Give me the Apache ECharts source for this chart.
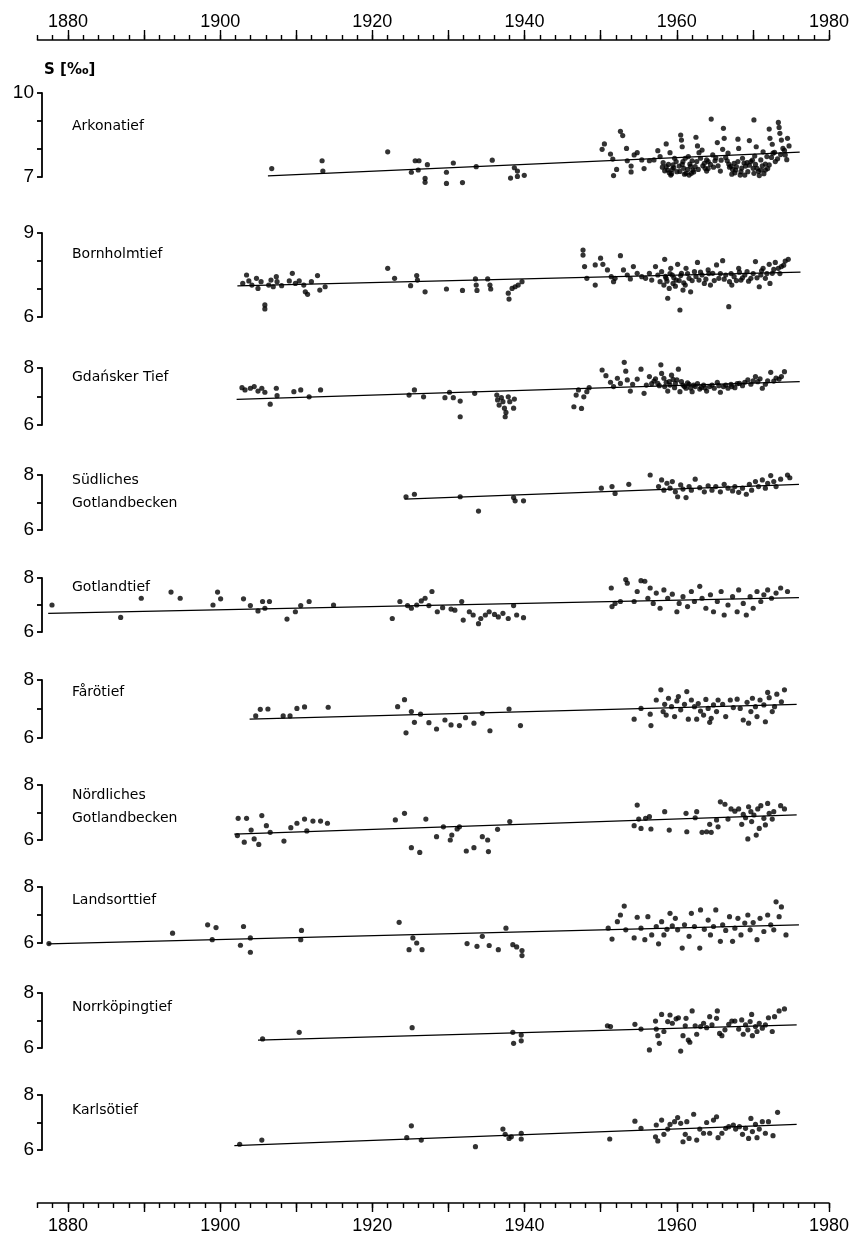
<!DOCTYPE html>
<html>
<head>
<meta charset="utf-8">
<script src="https://cdn.jsdelivr.net/npm/echarts@6/dist/echarts.min.js"></script>
<style>
  html, body { margin: 0; padding: 0; background: #fff; }
  #chart { width: 852px; height: 1240px; }
</style>
</head>
<body>
<div id="chart"></div>
<script>
// Salinity S [‰] at ten Baltic deep stations, 1876–1980, with linear trends.

const stations = ['Arkonatief', 'Bornholmtief', 'Gdańsker Tief', 'Südliches\nGotlandbecken', 'Gotlandtief',
  'Fårötief', 'Nördliches\nGotlandbecken', 'Landsorttief', 'Norrköpingtief', 'Karlsötief'];

// y-axis extent per station [min, max]
const yRanges = [[7, 10], [6, 9], [6, 8], [6, 8], [6, 8], [6, 8], [6, 8], [6, 8], [6, 8], [6, 8]];

const yearMin = 1876, yearMax = 1980;
const yearLabels = [1880, 1900, 1920, 1940, 1960, 1980];
const decadeTicks = [1880, 1890, 1900, 1910, 1920, 1930, 1940, 1950, 1960, 1970, 1980];

// observations [year, S]
const arkona = [[1906.7,7.30],[1913.3,7.58],[1913.4,7.21],[1921.9,7.90],[1925,7.17],[1925.5,7.58],[1926,7.58],[1925.9,7.25],[1926.8,6.95],[1926.8,6.81],[1927.1,7.44],[1929.6,7.17],[1929.6,6.77],[1930.5,7.50],[1931.7,6.80],[1933.5,7.37],[1935.6,7.60],[1938,6.96],[1938.5,7.33],[1938.9,7.21],[1938.9,7.02],[1939.8,7.06],
  [1950.3,8.18],[1950,7.99],[1951.1,7.82],[1951.4,7.64],[1951.5,7.05],[1951.9,7.27],[1952.4,8.63],[1952.7,8.48],[1953.2,8.02],[1953.3,7.58],[1953.8,7.39],[1953.8,7.18],[1954.2,7.79],[1954.6,7.87],[1955.2,7.61],[1955.5,7.30],[1956.2,7.58],[1956.8,7.61],[1957.3,7.94],[1957.6,7.73],[1958,7.51],[1958.4,8.18],[1958.6,7.25],[1958.9,7.87],[1959,7.07],[1959.3,7.43],[1959.5,7.67],[1959.8,7.19],
  [1960.3,8.50],[1960.4,8.32],[1960.5,8.08],[1960.6,7.55],[1960.7,7.31],[1961,7.13],[1961.3,7.73],[1961.5,7.46],[1961.7,7.13],[1961.9,7.25],[1962.3,8.42],[1962.5,8.11],[1962.7,7.87],[1962.9,7.67],[1963.1,7.96],[1963.5,7.31],[1963.7,7.21],[1963.9,7.55],[1964.3,9.07],[1964.5,7.79],[1964.8,7.58],[1965.1,8.23],[1965.5,7.21],[1965.8,7.99],[1965.9,8.74],[1966,8.38],[1966.2,7.70],[1966.5,7.85],[1966.7,7.35],[1967,7.10],[1967.3,7.49],[1967.5,7.25],[1967.8,8.35],[1967.9,8.02],[1968.1,7.07],[1968.4,7.67],[1968.8,7.39],[1969.1,7.19],[1969.3,8.30],[1969.5,7.55],[1969.9,9.04],[1970,7.75],[1970.2,8.08],[1970.3,7.31],[1970.6,7.05],[1970.8,7.61],[1971.1,7.90],[1971.4,7.25],[1971.6,7.73],[1971.9,8.71],[1972,8.38],[1972.3,8.17],[1972.4,7.85],[1972.7,7.55],[1973.1,8.95],[1973.2,8.77],[1973.3,8.56],[1973.5,8.32],[1973.7,8.02],[1974,7.79],[1974.3,8.38],[1974.5,8.11],
  [1958.4,7.37],[1958.8,7.15],[1959.2,7.27],[1959.7,7.55],[1960.1,7.39],[1960.9,7.67],[1961.2,7.27],[1961.4,7.07],[1961.8,7.58],[1962.2,7.37],[1963.4,7.49],[1963.7,7.61],[1966.6,7.46],[1967.1,7.27],[1967.6,7.37],[1968.2,7.19],[1968.7,7.07],[1969,7.51],[1969.8,7.31],[1969.9,7.13],[1970.8,7.25],[1971.4,7.46],[1971.9,7.43],
  [1957.9,7.35],[1958.2,7.22],[1958.7,7.45],[1959.1,7.12],[1959.4,7.33],[1960.2,7.20],[1960.5,7.45],[1960.8,7.10],[1961.6,7.38],[1962.0,7.18],[1962.4,7.55],[1962.6,7.27],[1963.2,7.40],[1963.9,7.30],[1964.2,7.45],[1964.6,7.35],[1964.9,7.68],[1965.2,7.40],[1965.6,7.60],[1966.4,7.58],[1966.9,7.38],[1967.4,7.15],[1967.8,7.55],[1968.3,7.32],[1968.6,7.50],[1969.3,7.42],[1969.7,7.60],[1970.1,7.45],[1970.5,7.20],[1971.0,7.40],[1971.2,7.12],[1971.7,7.30],[1972.2,7.70],[1972.6,7.88],[1973.0,7.65],[1973.4,7.80],[1973.9,7.95],[1974.2,7.62]];
const arkonaTrend = [[1906.2, 7.04], [1975.9, 7.89]];

const bornholm = [[1902.9,7.20],[1903.4,7.50],[1903.7,7.29],[1904.1,7.14],[1904.7,7.38],[1904.9,7.02],[1905.3,7.26],[1905.8,6.43],[1905.8,6.29],[1906.3,7.14],[1906.6,7.32],[1906.9,7.08],[1907.3,7.44],[1907.4,7.26],[1908,7.12],[1909,7.29],[1909.4,7.56],[1909.8,7.20],[1910.3,7.29],[1910.9,7.14],[1911.1,6.90],[1911.4,6.81],[1911.9,7.26],[1912.7,7.48],[1913,6.96],[1913.7,7.08],
  [1921.9,7.74],[1922.8,7.38],[1924.9,7.12],[1925.7,7.48],[1925.8,7.32],[1926.8,6.90],[1929.6,7.00],[1931.7,6.95],[1933.4,7.36],[1933.5,7.14],[1933.6,6.95],[1935,7.36],[1935.3,7.14],[1935.4,7.00],[1937.7,6.85],[1937.8,6.64],[1938.2,7.02],[1938.6,7.08],[1939,7.14],[1939.5,7.26],
  [1947.5,8.39],[1947.5,8.21],[1947.7,7.80],[1948,7.38],[1949.1,7.86],[1949.1,7.14],[1949.8,8.10],[1950.1,7.88],[1950.7,7.68],[1951.2,7.44],[1951.5,7.26],[1951.7,7.38],[1952.4,8.19],[1952.8,7.68],[1953.3,7.50],[1953.7,7.36],[1954.1,7.80],[1954.6,7.56],[1955.2,7.44],[1955.7,7.38],[1956.2,7.56],[1956.5,7.32],[1957,7.80],[1957.3,7.50],[1957.6,7.26],[1957.8,7.62],[1958.1,7.14],[1958.2,8.06],[1958.4,7.38],[1958.6,6.67],[1958.8,7.02],[1959,7.74],[1959.2,7.50],[1959.3,7.20],[1959.7,7.32],[1959.9,7.88],
  [1960.2,6.25],[1960.4,7.56],[1960.6,6.96],[1960.9,7.14],[1961,7.74],[1961.4,7.38],[1961.6,6.90],[1962.1,7.62],[1962.5,7.95],[1962.7,7.32],[1963.1,7.50],[1963.4,7.20],[1963.9,7.68],[1964.2,7.14],[1964.5,7.56],[1965,7.86],[1965.3,7.38],[1965.8,8.01],[1966.2,7.50],[1966.6,6.37],[1966.7,7.26],[1967,7.14],[1967.3,7.44],[1967.9,7.74],[1968.2,7.32],[1968.7,7.50],[1969,7.62],[1969.5,7.38],[1970.1,7.98],[1970.6,7.08],[1970.8,7.50],[1971.1,7.74],[1971.4,7.38],[1971.9,7.88],[1972,7.20],[1972.3,7.56],[1972.7,7.95],[1973.1,7.74],[1973.5,7.80],[1974,8.00],[1974.4,8.06],
  [1958.3,7.45],[1958.5,7.28],[1958.9,7.55],[1959.4,7.40],[1959.6,7.10],[1960.1,7.30],[1960.3,7.48],[1960.7,7.22],[1961.2,7.55],[1961.8,7.30],[1962.3,7.45],[1962.9,7.60],[1963.6,7.35],[1964.0,7.55],[1964.7,7.30],[1965.5,7.55],[1966.0,7.35],[1966.9,7.55],[1967.6,7.30],[1968.0,7.60],[1968.4,7.40],[1969.2,7.28],[1969.8,7.55],[1970.3,7.40],[1970.9,7.65],[1971.6,7.55],[1972.5,7.70],[1973.3,7.55],[1973.8,7.85]];
const bornholmTrend = [[1902.2, 7.11], [1976, 7.60]];

const gdansk = [[1902.8,7.31],[1903.2,7.23],[1903.9,7.29],[1904.4,7.35],[1904.9,7.19],[1905.4,7.29],[1905.8,7.15],[1906.5,6.73],[1907.3,7.29],[1907.4,7.03],[1909.6,7.17],[1910.5,7.23],[1911.6,6.99],[1913.1,7.23],
  [1924.7,7.05],[1925.4,7.23],[1926.6,6.99],[1929.4,6.96],[1930,7.15],[1930.5,6.96],[1931.4,6.84],[1931.4,6.29],[1933.3,7.11],[1936.2,7.05],[1936.3,6.88],[1936.5,6.70],[1936.8,6.96],[1937,6.82],[1937.2,6.59],[1937.3,6.29],[1937.4,6.44],[1937.7,6.99],[1937.9,6.82],[1938.4,6.59],[1938.5,6.91],
  [1946.3,6.64],[1946.6,7.05],[1946.9,7.23],[1947.3,6.58],[1947.6,6.99],[1948,7.17],[1948.3,7.31],[1950,7.93],[1950.5,7.73],[1951.1,7.50],[1951.5,7.35],[1952,7.64],[1952.4,7.46],[1952.9,8.20],[1953.1,7.89],[1953.3,7.58],[1953.7,7.19],[1954,7.43],[1954.6,7.61],[1955.1,7.96],[1955.5,7.11],[1955.8,7.40],[1956.2,7.70],[1956.8,7.54],[1957.3,7.46],[1957.7,8.11],[1957.8,7.81],[1958.1,7.64],[1958.2,7.35],[1958.6,7.19],[1958.8,7.52],[1959.1,7.75],[1959.5,7.31],[1959.8,7.58],
  [1960,7.96],[1960.2,7.17],[1960.6,7.40],[1961,7.29],[1961.4,7.43],[1961.8,7.17],[1962.2,7.35],[1962.8,7.26],[1963.3,7.40],[1963.7,7.19],[1964.1,7.35],[1964.7,7.29],[1965.1,7.50],[1965.5,7.15],[1965.9,7.35],[1966.5,7.29],[1966.9,7.43],[1967.4,7.31],[1968,7.46],[1968.4,7.38],[1969.1,7.58],[1969.5,7.43],[1970.1,7.70],[1970.4,7.52],[1971,7.29],[1971.4,7.43],[1972.1,7.85],[1972.5,7.54],[1973.2,7.61],[1973.9,7.87],
  [1956.5,7.45],[1957.0,7.62],[1957.5,7.38],[1958.4,7.50],[1958.9,7.40],[1959.3,7.60],[1959.6,7.45],[1960.4,7.52],[1960.8,7.35],[1961.2,7.48],[1961.6,7.30],[1962.0,7.40],[1962.5,7.45],[1963.0,7.32],[1963.5,7.30],[1964.4,7.40],[1965.3,7.38],[1966.2,7.40],[1967.0,7.35],[1967.7,7.45],[1968.7,7.50],[1969.8,7.55],[1970.7,7.62],[1971.7,7.55],[1972.8,7.65],[1973.5,7.70]];
const gdanskTrend = [[1902.1, 6.90], [1975.9, 7.52]];

const suedGotland = [[1924.3,7.21],[1925.4,7.30],[1931.4,7.21],[1933.8,6.69],[1938.4,7.18],[1938.6,7.06],[1939.7,7.06],[1949.9,7.52],[1951.3,7.58],[1951.7,7.33],[1953.5,7.66],[1956.3,8.00],[1957.4,7.58],[1957.8,7.82],[1958.1,7.45],[1958.5,7.70],[1958.9,7.52],[1959.2,7.76],[1959.6,7.39],[1959.9,7.21],
  [1960.3,7.64],[1960.6,7.49],[1961,7.18],[1961.4,7.58],[1961.7,7.45],[1962.2,7.85],[1962.8,7.54],[1963.4,7.39],[1963.9,7.61],[1964.4,7.45],[1964.9,7.58],[1965.5,7.39],[1966,7.66],[1966.5,7.52],[1967.1,7.42],[1967.4,7.58],[1967.9,7.37],[1968.4,7.52],[1968.9,7.30],[1969.3,7.66],[1969.6,7.45],[1970.1,7.76],[1970.5,7.58],[1971,7.82],[1971.4,7.52],[1971.7,7.70],[1972.1,7.98],[1972.5,7.76],[1972.8,7.58],[1973.4,7.85],[1974.3,8.00],[1974.6,7.90]];
const suedGotlandTrend = [[1924.1, 7.12], [1975.8, 7.66]];

const gotlandtief = [[1877.9,7.00],[1886.9,6.54],[1889.6,7.25],[1893.5,7.48],[1894.7,7.25],[1899,7.00],[1899.6,7.48],[1900,7.23],[1903,7.23],[1903.9,6.98],[1904.9,6.78],[1905.5,7.13],[1905.8,6.88],[1906.4,7.13],[1908.7,6.48],[1909.8,6.75],[1910.5,6.98],[1911.6,7.13],[1914.8,7.00],
  [1922.5,6.50],[1923.5,7.13],[1924.5,6.98],[1925,6.88],[1925.7,7.00],[1926.3,7.15],[1926.8,7.25],[1927.3,6.98],[1927.7,7.50],[1928.4,6.75],[1929.1,6.90],[1930.2,6.85],[1930.7,6.81],[1931.6,7.13],[1931.8,6.44],[1932.6,6.75],[1933.1,6.63],[1933.8,6.31],[1934.1,6.50],[1934.7,6.63],[1935.2,6.75],[1935.9,6.65],[1936.4,6.56],[1937,6.69],[1937.7,6.50],[1938.4,6.98],[1938.8,6.63],[1939.7,6.53],
  [1951.2,7.63],[1951.3,6.94],[1951.7,7.06],[1952.4,7.13],[1953.1,7.94],[1953.3,7.81],[1954.2,7.13],[1954.6,7.50],[1955.1,7.90],[1955.6,7.88],[1956,7.25],[1956.3,7.63],[1956.7,7.06],[1957.1,7.44],[1957.6,6.88],[1958.1,7.56],[1958.6,7.25],[1959.2,7.40],[1959.8,6.75],
  [1960.1,7.06],[1960.6,7.31],[1961.2,6.94],[1961.7,7.50],[1962.1,7.13],[1962.8,7.69],[1963.1,7.25],[1963.6,6.88],[1964.2,7.38],[1964.6,6.75],[1965.1,7.13],[1965.6,7.50],[1966,6.63],[1966.5,7.00],[1967.1,7.31],[1967.7,6.75],[1967.9,7.56],[1968.5,7.06],[1968.9,6.63],[1969.4,7.31],[1969.8,6.88],[1970.3,7.50],[1970.8,7.13],[1971.2,7.38],[1971.7,7.56],[1972.2,7.25],[1972.8,7.44],[1973.4,7.63],[1974.3,7.50]];
const gotlandtiefTrend = [[1877.4, 6.69], [1975.8, 7.27]];

const faroe = [[1904.6,6.76],[1905.2,6.99],[1906.2,7.00],[1908.2,6.76],[1909.1,6.76],[1910,7.02],[1911,7.07],[1914.1,7.06],
  [1923.2,7.08],[1924.1,7.32],[1925,6.91],[1925.4,6.54],[1924.3,6.18],[1926.2,6.82],[1927.3,6.53],[1928.3,6.31],[1929.4,6.62],[1930.2,6.45],[1931.3,6.43],[1932.1,6.70],[1933.2,6.51],[1934.3,6.85],[1935.3,6.25],[1937.8,7.00],[1939.3,6.43],
  [1954.2,6.65],[1955.1,7.02],[1956.3,6.82],[1956.4,6.43],[1957.1,7.31],[1957.7,7.66],[1958,6.91],[1958.2,7.16],[1958.4,6.79],[1958.7,7.37],[1959.1,7.08],[1959.5,6.74],[1959.8,7.28],
  [1960,7.43],[1960.3,6.97],[1960.8,7.16],[1961.1,7.60],[1961.3,6.65],[1961.7,7.31],[1962.1,7.08],[1962.4,6.65],[1962.6,7.19],[1962.9,6.93],[1963.3,6.79],[1963.6,7.33],[1963.9,7.02],[1964.1,6.54],[1964.3,6.68],[1964.6,7.14],[1965,6.91],[1965.2,7.31],[1965.8,7.16],[1966.2,6.74],[1966.8,7.31],[1967.2,7.05],[1967.7,7.34],[1968.1,7.02],[1968.5,6.62],[1969,7.23],[1969.2,6.51],[1969.5,6.91],[1969.7,7.37],[1970.1,7.08],[1970.3,6.74],[1970.7,7.31],[1971.2,7.14],[1971.4,6.56],[1971.7,7.57],[1971.9,7.39],[1972.3,6.91],[1972.6,7.08],[1972.9,7.51],[1973.5,7.25],[1973.9,7.66]];
const faroeTrend = [[1903.8, 6.65], [1975.5, 7.16]];

const noerdGotland = [[1902.3,6.79],[1902.2,6.16],[1903.1,5.92],[1903.4,6.79],[1904,6.36],[1904.4,6.04],[1905,5.84],[1905.4,6.89],[1906,6.52],[1906.5,6.28],[1908.3,5.96],[1909.2,6.45],[1910,6.61],[1911,6.76],[1911.3,6.33],[1912.1,6.69],[1913.1,6.69],[1914,6.61],
  [1922.9,6.73],[1924.1,6.97],[1925,5.72],[1926.1,5.55],[1926.9,6.76],[1928.3,6.12],[1929.2,6.48],[1930.1,6.00],[1930.3,6.18],[1931,6.40],[1931.3,6.48],[1932.2,5.60],[1933.2,5.72],[1934.3,6.12],[1935,6.00],[1935.1,5.58],[1936.3,6.39],[1937.9,6.67],
  [1954.6,7.27],[1954.2,6.52],[1954.8,6.76],[1955.1,6.42],[1955.7,6.79],[1956.2,6.85],[1956.4,6.40],[1958.2,7.03],[1958.8,6.36],[1961,6.97],[1961.1,6.30],[1962.4,7.03],[1962.2,6.81],[1963.1,6.28],[1963.7,6.30],[1964.1,6.57],[1964.3,6.28],[1965,6.73],[1965.2,6.48],[1965.5,7.39],[1966.1,7.30],[1966.5,6.76],[1966.9,7.13],[1967.4,7.05],[1967.9,7.13],[1968.3,6.57],[1968.5,6.93],[1968.8,6.81],[1969.1,6.04],[1969.2,7.21],[1969.5,7.03],[1969.6,6.67],[1969.9,6.91],[1970.2,6.18],[1970.4,7.13],[1970.6,6.42],[1970.8,7.25],[1971.2,6.79],[1971.4,6.55],[1971.7,7.33],[1971.9,6.97],[1972.3,6.76],[1972.5,7.03],[1973.4,7.25],[1973.9,7.13]];
const noerdGotlandTrend = [[1901.8, 6.21], [1975.5, 6.91]];

const landsort = [[1877.5,5.98],[1893.7,6.35],[1898.3,6.65],[1899.4,6.55],[1898.9,6.12],[1903,6.59],[1902.6,5.92],[1903.9,6.18],[1903.9,5.67],[1910.6,6.45],[1910.5,6.12],
  [1923.4,6.74],[1924.7,5.76],[1925.2,6.18],[1925.7,6.00],[1926.4,5.76],[1932.3,5.98],[1933.6,5.88],[1934.3,6.24],[1935.2,5.91],[1936.4,5.76],[1937.4,6.53],[1938.3,5.94],[1938.8,5.86],[1939.5,5.73],[1939.5,5.55],
  [1950.8,6.53],[1951.3,6.14],[1952,6.76],[1952.4,7.00],[1952.9,7.32],[1953.1,6.47],[1954.2,6.18],[1954.6,6.92],[1955.1,6.53],[1955.6,6.12],[1956,6.94],[1956.5,6.29],[1957.1,6.59],[1957.4,5.97],[1957.8,6.76],[1958.1,6.29],[1958.5,6.49],[1958.9,7.06],[1959.2,6.61],[1959.6,6.88],[1959.9,6.47],
  [1960.5,5.82],[1960.8,6.65],[1961.4,6.24],[1961.7,7.06],[1962.1,6.59],[1962.8,5.82],[1962.9,7.18],[1963.4,6.49],[1963.9,6.82],[1964.2,6.29],[1964.6,6.59],[1964.9,7.18],[1965.5,6.06],[1965.8,6.65],[1966.2,6.45],[1966.7,6.94],[1967.1,6.06],[1967.4,6.53],[1967.8,6.88],[1968.2,6.29],[1968.7,6.71],[1969.1,7.00],[1969.4,6.47],[1969.8,6.73],[1970.3,6.12],[1970.7,6.88],[1971.2,6.41],[1971.7,7.00],[1972.1,6.65],[1972.5,6.47],[1972.8,7.47],[1973.2,6.94],[1973.5,7.29],[1974.1,6.29]];
const landsortTrend = [[1877.4, 5.97], [1975.8, 6.65]];

const norrkoeping = [[1905.5,6.33],[1910.3,6.57],[1925.1,6.74],[1938.3,6.57],[1938.4,6.17],[1939.4,6.47],[1939.4,6.26],[1950.7,6.81],[1951.1,6.78],[1954.3,6.86],[1955.1,6.69],[1956.2,5.93],[1957,6.98],[1957.1,6.69],[1957.3,6.45],[1957.5,6.17],[1957.8,7.22],[1958.1,6.60],[1958.6,6.96],[1958.9,7.20],[1959.2,6.90],[1959.7,7.06],
  [1960,7.10],[1960.3,5.89],[1960.6,6.45],[1960.9,6.81],[1961,7.08],[1961.3,6.29],[1961.5,6.21],[1961.8,7.35],[1962.2,6.81],[1962.4,6.50],[1962.9,6.78],[1963.3,6.90],[1963.7,6.74],[1964.1,7.14],[1964.4,6.84],[1965,7.08],[1965.1,7.35],[1965.4,6.53],[1965.7,6.45],[1966.1,6.66],[1966.6,6.86],[1967,6.98],[1967.4,6.98],[1967.9,6.69],[1968.3,7.02],[1968.5,6.50],[1968.8,6.84],[1969.1,6.66],[1969.4,6.96],[1969.6,7.22],[1969.7,6.45],[1970.1,6.78],[1970.3,6.60],[1970.6,6.90],[1971,6.72],[1971.4,6.84],[1971.8,7.10],[1972.3,6.60],[1972.6,7.14],[1973.2,7.35],[1973.9,7.42]];
const norrkoepingTrend = [[1904.9, 6.29], [1975.5, 6.84]];

const karlsoe = [[1902.5,6.21],[1905.4,6.36],[1925,6.88],[1924.4,6.45],[1926.3,6.36],[1933.4,6.12],[1937,6.76],[1937.3,6.57],[1937.8,6.42],[1938.1,6.48],[1939.4,6.61],[1939.4,6.40],
  [1951,6.40],[1954.3,7.05],[1955.1,6.79],[1957,6.48],[1957.3,6.33],[1957.1,6.91],[1957.8,7.09],[1958.1,6.57],[1958.6,6.76],[1958.9,6.93],[1959.5,7.03],[1959.9,7.18],
  [1960.3,6.97],[1960.6,6.30],[1960.9,6.57],[1961.1,7.03],[1961.4,6.42],[1962,7.30],[1962.4,6.36],[1962.8,6.76],[1963.3,6.61],[1963.7,7.00],[1964.1,6.61],[1964.6,7.09],[1965,7.21],[1965.2,6.45],[1965.7,6.61],[1966.2,6.79],[1966.6,6.85],[1967.2,6.91],[1967.5,6.76],[1968,6.85],[1968.4,6.57],[1968.8,6.79],[1969.2,6.42],[1969.5,7.15],[1969.7,6.67],[1970.1,6.93],[1970.3,6.45],[1970.6,6.76],[1971,7.03],[1971.4,6.61],[1971.8,7.03],[1972.4,6.52],[1973,7.37]];
const karlsoeTrend = [[1901.8, 6.16], [1975.5, 6.93]];

const observations = [arkona, bornholm, gdansk, suedGotland, gotlandtief, faroe, noerdGotland, landsort, norrkoeping, karlsoe];
const trends = [arkonaTrend, bornholmTrend, gdanskTrend, suedGotlandTrend, gotlandtiefTrend, faroeTrend,
  noerdGotlandTrend, landsortTrend, norrkoepingTrend, karlsoeTrend];

// ---- layout (pixels) ----
const plotLeft = 37.5, plotWidth = 793.5;
const panelTop =    [93, 233, 368, 475, 578, 680, 785, 887, 993, 1095];
const panelBottom = [177, 317, 425, 530, 632, 738, 840, 943, 1048, 1150];
const nameY =       [124, 252, 375, 491, 585, 690, 806, 898, 1005, 1108];
const topAxisY = 39, bottomAxisY = 1203;

const INK = '#000000';
const numFont = '"Liberation Sans", Arial, sans-serif';
const textFont = '"DejaVu Sans", sans-serif';

const grids = [], xAxes = [], yAxes = [], series = [], graphics = [];

stations.forEach((name, i) => {
  const [lo, hi] = yRanges[i];
  grids.push({ left: plotLeft, width: plotWidth, top: panelTop[i], height: panelBottom[i] - panelTop[i] });
  xAxes.push({ gridIndex: i, type: 'value', min: yearMin, max: yearMax, show: false });
  yAxes.push({
    gridIndex: i, type: 'value', min: lo, max: hi, interval: 1, offset: -4.5,
    axisLine: { show: true, lineStyle: { color: INK, width: 1.8 } },
    axisTick: { show: true, length: 5, lineStyle: { color: INK, width: 1.8 } },
    axisLabel: {
      margin: 8, color: INK, fontSize: 19, fontFamily: numFont,
      formatter: v => (v === lo || v === hi) ? String(v) : ''
    },
    splitLine: { show: false }
  });
  series.push({
    type: 'scatter', xAxisIndex: i, yAxisIndex: i, data: observations[i], clip: false,
    symbol: 'circle', symbolSize: 5.2, itemStyle: { color: INK }, silent: true, animation: false
  });
  series.push({
    type: 'line', xAxisIndex: i, yAxisIndex: i, data: trends[i], clip: false, symbol: 'none',
    lineStyle: { color: INK, width: 1.3 }, silent: true, animation: false
  });
  graphics.push({
    type: 'text', left: 72, top: nameY[i] - (name.includes('\n') ? 22 : 9),
    style: { text: name, fill: INK, font: '14px ' + textFont, lineHeight: 23 }
  });
});

// time axes above and below the panels
function timeAxisPair(gridIndex, position) {
  const base = {
    gridIndex, type: 'value', min: yearMin, max: yearMax, position,
    splitLine: { show: false }
  };
  const shortTicks = [];
  for (let y = yearMin; y <= yearMax; y += 2) shortTicks.push(y);
  return [
    Object.assign({}, base, {
      axisLine: { show: true, lineStyle: { color: INK, width: 1.6 } },
      axisTick: { show: true, length: 5, customValues: shortTicks, lineStyle: { color: INK, width: 1.4 } },
      axisLabel: { show: true, customValues: yearLabels, margin: position === 'top' ? 8 : 14,
        color: INK, fontSize: 18, fontFamily: numFont, formatter: v => String(v) }
    }),
    Object.assign({}, base, {
      axisLine: { show: false },
      axisTick: { show: true, length: 9, customValues: decadeTicks, lineStyle: { color: INK, width: 1.4 } },
      axisLabel: { show: false }
    })
  ];
}
grids.push({ left: plotLeft, width: plotWidth, top: topAxisY, height: 1 });
grids.push({ left: plotLeft, width: plotWidth, top: bottomAxisY - 1, height: 1 });
xAxes.push(...timeAxisPair(10, 'top'));
xAxes.push(...timeAxisPair(11, 'bottom'));
yAxes.push({ gridIndex: 10, type: 'value', show: false });
yAxes.push({ gridIndex: 11, type: 'value', show: false });

graphics.push({
  type: 'text', left: 44, top: 63,
  style: { text: 'S [‰]', fill: INK, font: 'bold 15px ' + textFont }
});

const chart = echarts.init(document.getElementById('chart'), null, { renderer: 'canvas' });
chart.setOption({
  backgroundColor: '#ffffff',
  animation: false,
  grid: grids,
  xAxis: xAxes,
  yAxis: yAxes,
  series,
  graphic: graphics
});
</script>
</body>
</html>
